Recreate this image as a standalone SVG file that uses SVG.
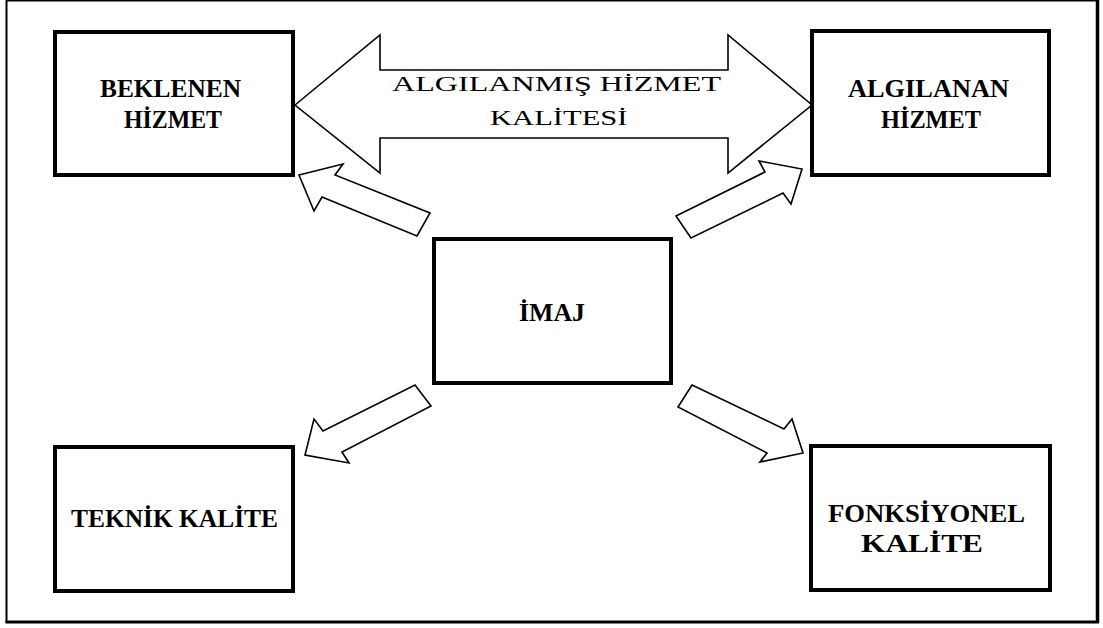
<svg xmlns="http://www.w3.org/2000/svg" width="1103" height="628" viewBox="0 0 1103 628">
<style>
.box{fill:#fff;stroke:#000;stroke-width:4}
.arr{fill:#fff;stroke:#000;stroke-width:1.6;stroke-linejoin:miter}
.b{font-family:"Liberation Serif","Times New Roman",serif;font-weight:bold;font-size:25px;fill:#000}
.r{font-family:"Liberation Serif","Times New Roman",serif;font-size:22px;fill:#000}
</style>
<rect width="1103" height="628" fill="#fff"/>
<g id="frame" stroke="#000" fill="none">
<line x1="6" y1="0.8" x2="1098" y2="0.8" stroke-width="1.6"/>
<line x1="6.5" y1="0" x2="6.5" y2="623" stroke-width="2"/>
<line x1="1097.5" y1="0" x2="1097.5" y2="623" stroke-width="3.5"/>
<line x1="5.5" y1="622" x2="1099" y2="622" stroke-width="3"/>
</g>
<g id="connectors">
<polygon class="arr" points="295,105 380,35 380,70 728,70 728,35 812,105 728,173 728,138 380,138 380,173"/>
<polygon class="arr" points="299,175 343,164 335,175 430,213 417,236 322,197 314,211"/>
<polygon class="arr" points="676,216 765,172 759,161 802,169 791,204 783,193 691,238"/>
<polygon class="arr" points="415,385 431,406 342,452 349,463 305,455 314,419 323,431"/>
<polygon class="arr" points="692,385 784,429 792,419 803,453 760,462 767,453 678,407"/>
<text class="r" transform="translate(392,91) scale(1.46,1)" x="0" y="0">ALGILANMI&#350; H&#304;ZMET</text>
<text class="r" transform="translate(490,125) scale(1.39,1)" x="0" y="0">KAL&#304;TES&#304;</text>
</g>
<g id="beklenen">
<rect class="box" x="55" y="32" width="238" height="143"/>
<text class="b" x="100" y="97" textLength="141" lengthAdjust="spacingAndGlyphs">BEKLENEN</text>
<text class="b" x="124" y="128" textLength="98" lengthAdjust="spacingAndGlyphs">H&#304;ZMET</text>
</g>
<g id="algilanan">
<rect class="box" x="812" y="31" width="237" height="144"/>
<text class="b" x="848" y="97" textLength="161" lengthAdjust="spacingAndGlyphs">ALGILANAN</text>
<text class="b" x="881" y="128" textLength="100" lengthAdjust="spacingAndGlyphs">H&#304;ZMET</text>
</g>
<g id="imaj">
<rect class="box" x="434" y="239" width="237" height="144"/>
<text class="b" x="519" y="321" textLength="66" lengthAdjust="spacingAndGlyphs">&#304;MAJ</text>
</g>
<g id="teknik">
<rect class="box" x="55" y="447" width="238" height="144"/>
<text class="b" x="71" y="527" textLength="207" lengthAdjust="spacingAndGlyphs">TEKN&#304;K KAL&#304;TE</text>
</g>
<g id="fonksiyonel">
<rect class="box" x="811" y="446" width="239" height="144"/>
<text class="b" x="828" y="522" textLength="197" lengthAdjust="spacingAndGlyphs">FONKS&#304;YONEL</text>
<text class="b" x="861" y="552" textLength="122" lengthAdjust="spacingAndGlyphs">KAL&#304;TE</text>
</g>
</svg>
